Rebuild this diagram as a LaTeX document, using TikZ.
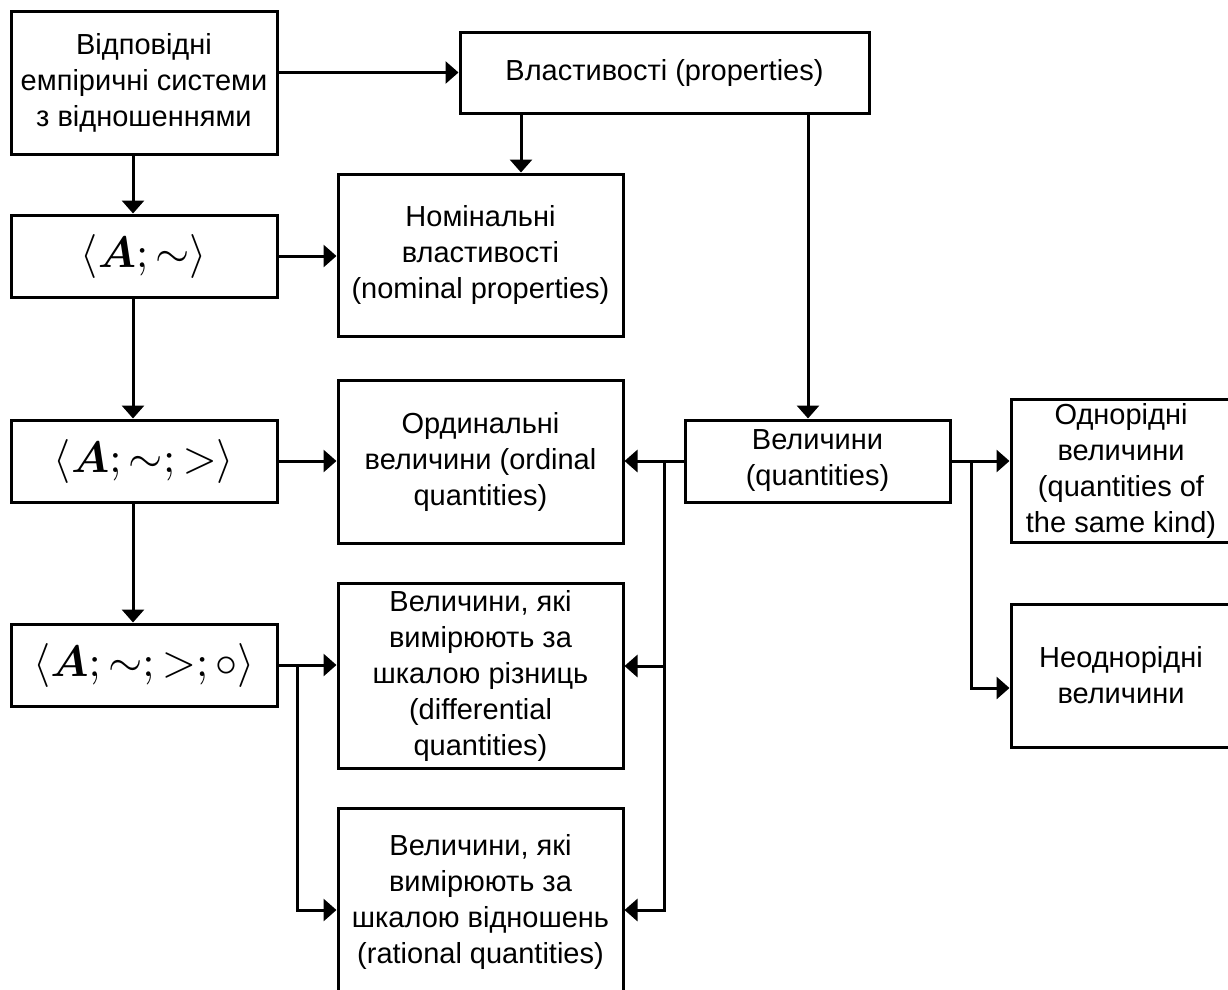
\documentclass[tikz,border=0pt]{standalone}
\usepackage{graphicx}
\usepackage{bm}
\usepackage[no-math]{fontspec}
\setmainfont{Liberation Sans}
\usetikzlibrary{arrows.meta,calc}
\newcommand{\bigmath}[1]{\scalebox{4.4}{$#1$}}
\begin{document}
\begin{tikzpicture}[x=1pt,y=-1pt,
  box/.style={draw, line width=3pt, inner sep=0pt, align=center, font=\fontsize{29}{36}\selectfont},
  mbox/.style={draw, line width=3pt, inner sep=0pt},
  conn/.style={line width=3pt, -{Triangle[length=13pt,width=22pt]}}]
\useasboundingbox (0,0) rectangle (1228,989);
\fill[white] (0,0) rectangle (1228,989);

\node[box, minimum width=266pt, minimum height=143pt] (B1) at (144,82.5)
  {Відповідні\\емпіричні системи\\з відношеннями};
\node[box, minimum width=409pt, minimum height=81pt] (Vlast) at (664.5,72.5)
  {Властивості (properties)};
\node[mbox, minimum width=266pt, minimum height=82pt] (A1) at (144,256)
  {\bigmath{\langle \bm{A};\sim\rangle}};
\node[box, minimum width=285pt, minimum height=162pt] (Nom) at (480.5,255)
  {Номінальні\\властивості\\(nominal properties)};
\node[mbox, minimum width=266pt, minimum height=82pt] (A2) at (144,461)
  {\bigmath{\langle \bm{A};\sim;>\rangle}};
\node[box, minimum width=285pt, minimum height=163pt] (Ord) at (480.5,461.5)
  {Ординальні\\величини (ordinal\\quantities)};
\node[box, minimum width=265pt, minimum height=82pt] (Vel) at (817.5,461)
  {Величини\\(quantities)};
\node[box, minimum width=220pt, minimum height=143pt] (Odn) at (1121,470.5)
  {Однорідні\\величини\\(quantities of\\the same kind)};
\node[box, minimum width=220pt, minimum height=143pt] (Neod) at (1121,675.5)
  {Неоднорідні\\величини};
\node[mbox, minimum width=266pt, minimum height=82pt] (A3) at (144,665)
  {\bigmath{\langle \bm{A};\sim;>;\circ\rangle}};
\node[box, minimum width=285pt, minimum height=185pt] (Diff) at (480.5,675.5)
  {Величини, які\\вимірюють за\\шкалою різниць\\(differential\\quantities)};
\node[box, minimum width=285pt, minimum height=188pt] (Rat) at (480.5,902)
  {Величини, які\\вимірюють за\\шкалою відношень\\(rational quantities)};

\coordinate (jR) at (664,461);
\coordinate (jL) at (297,665);
\coordinate (jO) at (971,461);
\coordinate (yD) at (0,666);
\coordinate (yR) at (0,910);
\coordinate (yN) at (0,688);
\coordinate (nomIn) at ($(Nom.north)+(40.5,0)$);
\coordinate (velIn) at ($(Vel.north)+(-9.5,0)$);

\draw[conn] (B1.east |- Vlast.west) -- (Vlast.west);
\draw[conn] ($(B1.south)+(-11,0)$) -- ($(A1.north)+(-11,0)$);
\draw[conn] ($(A1.south)+(-11,0)$) -- ($(A2.north)+(-11,0)$);
\draw[conn] ($(A2.south)+(-11,0)$) -- ($(A3.north)+(-11,0)$);
\draw[conn] (A1.east) -- (A1.east -| Nom.west);
\draw[conn] (A2.east) -- (A2.east -| Ord.west);
\draw[conn] (A3.east) -- (A3.east -| Diff.west);
\draw[conn] (jL) |- (Rat.west |- yR);
\draw[conn] (nomIn |- Vlast.south) -- (nomIn);
\draw[conn] (velIn |- Vlast.south) -- (velIn);
\draw[conn] (Vel.west) -- (Vel.west -| Ord.east);
\draw[conn] (jR) |- (Diff.east |- yD);
\draw[conn] (jR) |- (Rat.east |- yR);
\draw[conn] (Vel.east) -- (Vel.east -| Odn.west);
\draw[conn] (jO) |- (Neod.west |- yN);
\end{tikzpicture}
\end{document}
